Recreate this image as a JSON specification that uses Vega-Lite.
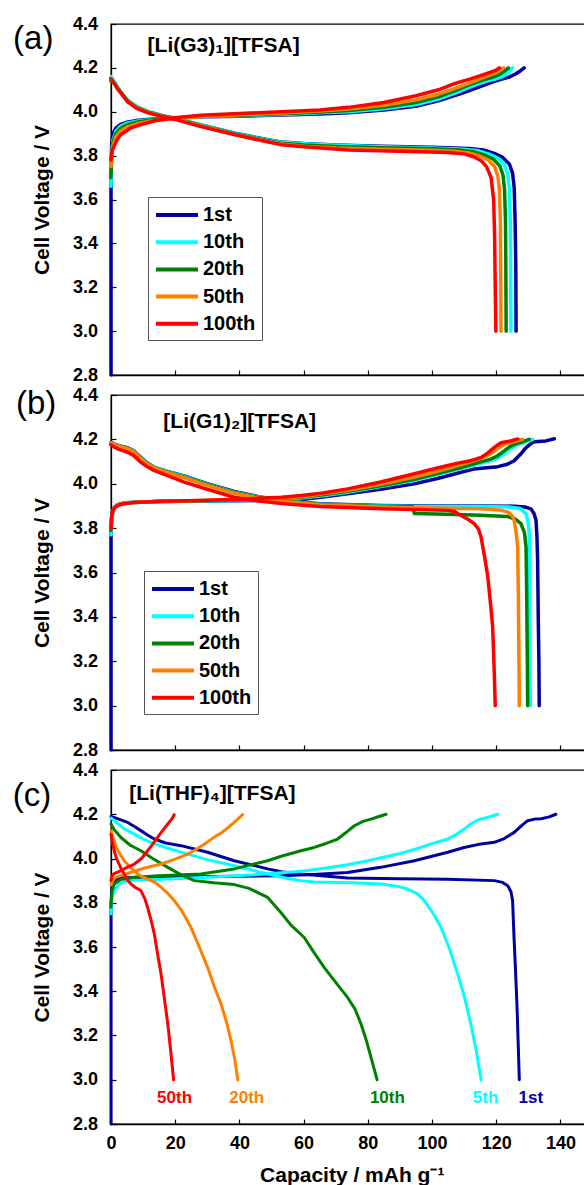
{
"$schema": "https://vega.github.io/schema/vega-lite/v6.json",
"background": "white",
"padding": {"left": 12, "top": 14, "right": 0, "bottom": 0},
"bounds": "flush",
"spacing": 20,
"config": {
  "font": "Liberation Sans",
  "view": {"stroke": "black", "strokeWidth": 1.3},
  "axis": {"domainColor": "black", "domainWidth": 1.3, "tickColor": "black", "tickWidth": 1.2, "tickSize": -5, "grid": false, "labelFontSize": 18, "labelFontWeight": "bold", "labelColor": "black", "titleFontSize": 21, "titleFontWeight": "bold", "titleColor": "black", "labelFlush": false, "labelOverlap": false},
  "legend": {"title": null, "orient": "none", "strokeColor": "#555", "fillColor": "white", "padding": 6, "symbolType": "M-1,0H3.2", "symbolSize": 400, "symbolStrokeWidth": 4, "labelFontSize": 20, "labelFontWeight": "bold", "labelColor": "black", "labelOffset": 25, "rowPadding": 5.2}
},
"resolve": {"scale": {"color": "independent"}, "legend": {"color": "independent"}},
"datasets": {
"a": [
{"c":"1st","s":"ch","x":0,"y":2.8},{"c":"1st","s":"ch","x":0,"y":3.72},{"c":"1st","s":"ch","x":0.2,"y":3.85},{"c":"1st","s":"ch","x":0.6,"y":3.9},{"c":"1st","s":"ch","x":1.5,"y":3.925},{"c":"1st","s":"ch","x":3,"y":3.942},{"c":"1st","s":"ch","x":5,"y":3.952},{"c":"1st","s":"ch","x":8,"y":3.96},{"c":"1st","s":"ch","x":12,"y":3.966},{"c":"1st","s":"ch","x":20,"y":3.972},{"c":"1st","s":"ch","x":30,"y":3.977},{"c":"1st","s":"ch","x":40,"y":3.98},{"c":"1st","s":"ch","x":53,"y":3.985},{"c":"1st","s":"ch","x":65,"y":3.99},{"c":"1st","s":"ch","x":74,"y":3.995},{"c":"1st","s":"ch","x":85,"y":4.008},{"c":"1st","s":"ch","x":95,"y":4.025},{"c":"1st","s":"ch","x":102,"y":4.05},{"c":"1st","s":"ch","x":109,"y":4.083},{"c":"1st","s":"ch","x":115,"y":4.115},{"c":"1st","s":"ch","x":119,"y":4.136},{"c":"1st","s":"ch","x":121.5,"y":4.148},{"c":"1st","s":"ch","x":124,"y":4.158},{"c":"1st","s":"ch","x":126,"y":4.172},{"c":"1st","s":"ch","x":127.5,"y":4.186},{"c":"1st","s":"ch","x":128.7,"y":4.2},
{"c":"1st","s":"di","x":0,"y":4.155},{"c":"1st","s":"di","x":0.5,"y":4.145},{"c":"1st","s":"di","x":1,"y":4.135},{"c":"1st","s":"di","x":2,"y":4.11},{"c":"1st","s":"di","x":3,"y":4.09},{"c":"1st","s":"di","x":5.2,"y":4.05},{"c":"1st","s":"di","x":8,"y":4.022},{"c":"1st","s":"di","x":11.5,"y":4.0},{"c":"1st","s":"di","x":16,"y":3.982},{"c":"1st","s":"di","x":20,"y":3.97},{"c":"1st","s":"di","x":28,"y":3.94},{"c":"1st","s":"di","x":38.6,"y":3.902},{"c":"1st","s":"di","x":49,"y":3.872},{"c":"1st","s":"di","x":53,"y":3.862},{"c":"1st","s":"di","x":60,"y":3.855},{"c":"1st","s":"di","x":70,"y":3.849},{"c":"1st","s":"di","x":84.5,"y":3.843},{"c":"1st","s":"di","x":100,"y":3.838},{"c":"1st","s":"di","x":111.6,"y":3.832},{"c":"1st","s":"di","x":116,"y":3.826},{"c":"1st","s":"di","x":119.4,"y":3.81},{"c":"1st","s":"di","x":122,"y":3.792},{"c":"1st","s":"di","x":124.1,"y":3.762},{"c":"1st","s":"di","x":125.1,"y":3.72},{"c":"1st","s":"di","x":125.6,"y":3.655},{"c":"1st","s":"di","x":125.9,"y":3.5},{"c":"1st","s":"di","x":126.1,"y":3.3},{"c":"1st","s":"di","x":126.2,"y":3.0},
{"c":"10th","s":"ch","x":0,"y":3.66},{"c":"10th","s":"ch","x":0.2,"y":3.8},{"c":"10th","s":"ch","x":0.6,"y":3.87},{"c":"10th","s":"ch","x":1.5,"y":3.91},{"c":"10th","s":"ch","x":3,"y":3.935},{"c":"10th","s":"ch","x":5,"y":3.948},{"c":"10th","s":"ch","x":8,"y":3.957},{"c":"10th","s":"ch","x":12,"y":3.964},{"c":"10th","s":"ch","x":20,"y":3.972},{"c":"10th","s":"ch","x":30,"y":3.978},{"c":"10th","s":"ch","x":40,"y":3.982},{"c":"10th","s":"ch","x":53,"y":3.988},{"c":"10th","s":"ch","x":65,"y":3.995},{"c":"10th","s":"ch","x":74,"y":4.0},{"c":"10th","s":"ch","x":85,"y":4.014},{"c":"10th","s":"ch","x":95,"y":4.033},{"c":"10th","s":"ch","x":102,"y":4.058},{"c":"10th","s":"ch","x":108,"y":4.09},{"c":"10th","s":"ch","x":113,"y":4.12},{"c":"10th","s":"ch","x":117,"y":4.14},{"c":"10th","s":"ch","x":120,"y":4.15},{"c":"10th","s":"ch","x":122,"y":4.16},{"c":"10th","s":"ch","x":123.8,"y":4.178},{"c":"10th","s":"ch","x":125.1,"y":4.2},
{"c":"10th","s":"di","x":0,"y":4.16},{"c":"10th","s":"di","x":0.5,"y":4.15},{"c":"10th","s":"di","x":1,"y":4.14},{"c":"10th","s":"di","x":2,"y":4.115},{"c":"10th","s":"di","x":3,"y":4.093},{"c":"10th","s":"di","x":5.2,"y":4.052},{"c":"10th","s":"di","x":8,"y":4.024},{"c":"10th","s":"di","x":11.5,"y":4.002},{"c":"10th","s":"di","x":16,"y":3.983},{"c":"10th","s":"di","x":20,"y":3.971},{"c":"10th","s":"di","x":28,"y":3.94},{"c":"10th","s":"di","x":38.6,"y":3.901},{"c":"10th","s":"di","x":49,"y":3.871},{"c":"10th","s":"di","x":53,"y":3.861},{"c":"10th","s":"di","x":60,"y":3.854},{"c":"10th","s":"di","x":70,"y":3.847},{"c":"10th","s":"di","x":84.5,"y":3.841},{"c":"10th","s":"di","x":100,"y":3.835},{"c":"10th","s":"di","x":110,"y":3.829},{"c":"10th","s":"di","x":114.5,"y":3.822},{"c":"10th","s":"di","x":118,"y":3.806},{"c":"10th","s":"di","x":120.6,"y":3.788},{"c":"10th","s":"di","x":122.6,"y":3.758},{"c":"10th","s":"di","x":123.6,"y":3.715},{"c":"10th","s":"di","x":124.1,"y":3.65},{"c":"10th","s":"di","x":124.4,"y":3.5},{"c":"10th","s":"di","x":124.5,"y":3.3},{"c":"10th","s":"di","x":124.6,"y":3.0},
{"c":"20th","s":"ch","x":0,"y":3.7},{"c":"20th","s":"ch","x":0.2,"y":3.8},{"c":"20th","s":"ch","x":0.6,"y":3.86},{"c":"20th","s":"ch","x":1.5,"y":3.9},{"c":"20th","s":"ch","x":3,"y":3.925},{"c":"20th","s":"ch","x":5,"y":3.94},{"c":"20th","s":"ch","x":8,"y":3.952},{"c":"20th","s":"ch","x":12,"y":3.961},{"c":"20th","s":"ch","x":20,"y":3.971},{"c":"20th","s":"ch","x":30,"y":3.979},{"c":"20th","s":"ch","x":40,"y":3.984},{"c":"20th","s":"ch","x":53,"y":3.991},{"c":"20th","s":"ch","x":65,"y":3.999},{"c":"20th","s":"ch","x":74,"y":4.006},{"c":"20th","s":"ch","x":85,"y":4.021},{"c":"20th","s":"ch","x":95,"y":4.042},{"c":"20th","s":"ch","x":102,"y":4.068},{"c":"20th","s":"ch","x":107,"y":4.095},{"c":"20th","s":"ch","x":112,"y":4.125},{"c":"20th","s":"ch","x":116,"y":4.145},{"c":"20th","s":"ch","x":119,"y":4.158},{"c":"20th","s":"ch","x":121,"y":4.17},{"c":"20th","s":"ch","x":122.6,"y":4.185},{"c":"20th","s":"ch","x":123.8,"y":4.2},
{"c":"20th","s":"di","x":0,"y":4.14},{"c":"20th","s":"di","x":0.5,"y":4.135},{"c":"20th","s":"di","x":1,"y":4.13},{"c":"20th","s":"di","x":2,"y":4.108},{"c":"20th","s":"di","x":3,"y":4.09},{"c":"20th","s":"di","x":5.2,"y":4.05},{"c":"20th","s":"di","x":8,"y":4.02},{"c":"20th","s":"di","x":11.5,"y":3.999},{"c":"20th","s":"di","x":16,"y":3.981},{"c":"20th","s":"di","x":20,"y":3.969},{"c":"20th","s":"di","x":28,"y":3.938},{"c":"20th","s":"di","x":38.6,"y":3.899},{"c":"20th","s":"di","x":49,"y":3.868},{"c":"20th","s":"di","x":53,"y":3.857},{"c":"20th","s":"di","x":60,"y":3.849},{"c":"20th","s":"di","x":70,"y":3.842},{"c":"20th","s":"di","x":84.5,"y":3.836},{"c":"20th","s":"di","x":100,"y":3.831},{"c":"20th","s":"di","x":108.5,"y":3.826},{"c":"20th","s":"di","x":113,"y":3.818},{"c":"20th","s":"di","x":116.5,"y":3.802},{"c":"20th","s":"di","x":119.1,"y":3.784},{"c":"20th","s":"di","x":121.1,"y":3.754},{"c":"20th","s":"di","x":122.1,"y":3.712},{"c":"20th","s":"di","x":122.6,"y":3.648},{"c":"20th","s":"di","x":122.9,"y":3.5},{"c":"20th","s":"di","x":123,"y":3.3},{"c":"20th","s":"di","x":123.1,"y":3.0},
{"c":"50th","s":"ch","x":0,"y":3.75},{"c":"50th","s":"ch","x":0.2,"y":3.8},{"c":"50th","s":"ch","x":0.6,"y":3.845},{"c":"50th","s":"ch","x":1.5,"y":3.885},{"c":"50th","s":"ch","x":3,"y":3.912},{"c":"50th","s":"ch","x":5,"y":3.93},{"c":"50th","s":"ch","x":8,"y":3.945},{"c":"50th","s":"ch","x":12,"y":3.957},{"c":"50th","s":"ch","x":20,"y":3.969},{"c":"50th","s":"ch","x":30,"y":3.979},{"c":"50th","s":"ch","x":40,"y":3.986},{"c":"50th","s":"ch","x":53,"y":3.994},{"c":"50th","s":"ch","x":65,"y":4.003},{"c":"50th","s":"ch","x":74,"y":4.012},{"c":"50th","s":"ch","x":85,"y":4.03},{"c":"50th","s":"ch","x":95,"y":4.055},{"c":"50th","s":"ch","x":102,"y":4.08},{"c":"50th","s":"ch","x":107,"y":4.105},{"c":"50th","s":"ch","x":112,"y":4.133},{"c":"50th","s":"ch","x":115.5,"y":4.153},{"c":"50th","s":"ch","x":118,"y":4.167},{"c":"50th","s":"ch","x":120,"y":4.178},{"c":"50th","s":"ch","x":121.3,"y":4.19},{"c":"50th","s":"ch","x":122.3,"y":4.2},
{"c":"50th","s":"di","x":0,"y":4.15},{"c":"50th","s":"di","x":0.5,"y":4.14},{"c":"50th","s":"di","x":1,"y":4.13},{"c":"50th","s":"di","x":2,"y":4.107},{"c":"50th","s":"di","x":3,"y":4.088},{"c":"50th","s":"di","x":5.2,"y":4.047},{"c":"50th","s":"di","x":8,"y":4.018},{"c":"50th","s":"di","x":11.5,"y":3.997},{"c":"50th","s":"di","x":16,"y":3.98},{"c":"50th","s":"di","x":20,"y":3.967},{"c":"50th","s":"di","x":28,"y":3.935},{"c":"50th","s":"di","x":38.6,"y":3.897},{"c":"50th","s":"di","x":49,"y":3.865},{"c":"50th","s":"di","x":53,"y":3.853},{"c":"50th","s":"di","x":60,"y":3.843},{"c":"50th","s":"di","x":70,"y":3.835},{"c":"50th","s":"di","x":84.5,"y":3.829},{"c":"50th","s":"di","x":100,"y":3.824},{"c":"50th","s":"di","x":107,"y":3.82},{"c":"50th","s":"di","x":111.5,"y":3.812},{"c":"50th","s":"di","x":115,"y":3.797},{"c":"50th","s":"di","x":117.5,"y":3.78},{"c":"50th","s":"di","x":119.5,"y":3.75},{"c":"50th","s":"di","x":120.5,"y":3.708},{"c":"50th","s":"di","x":121,"y":3.645},{"c":"50th","s":"di","x":121.3,"y":3.5},{"c":"50th","s":"di","x":121.4,"y":3.3},{"c":"50th","s":"di","x":121.5,"y":3.0},
{"c":"100th","s":"ch","x":0,"y":3.78},{"c":"100th","s":"ch","x":0.3,"y":3.82},{"c":"100th","s":"ch","x":1,"y":3.845},{"c":"100th","s":"ch","x":2,"y":3.875},{"c":"100th","s":"ch","x":3,"y":3.895},{"c":"100th","s":"ch","x":6,"y":3.925},{"c":"100th","s":"ch","x":9.4,"y":3.942},{"c":"100th","s":"ch","x":14,"y":3.96},{"c":"100th","s":"ch","x":20,"y":3.973},{"c":"100th","s":"ch","x":28,"y":3.984},{"c":"100th","s":"ch","x":40,"y":3.992},{"c":"100th","s":"ch","x":53,"y":4.0},{"c":"100th","s":"ch","x":65,"y":4.008},{"c":"100th","s":"ch","x":74,"y":4.02},{"c":"100th","s":"ch","x":85,"y":4.042},{"c":"100th","s":"ch","x":95,"y":4.073},{"c":"100th","s":"ch","x":102,"y":4.1},{"c":"100th","s":"ch","x":107.4,"y":4.13},{"c":"100th","s":"ch","x":112,"y":4.15},{"c":"100th","s":"ch","x":115.8,"y":4.168},{"c":"100th","s":"ch","x":118.5,"y":4.182},{"c":"100th","s":"ch","x":120,"y":4.19},{"c":"100th","s":"ch","x":121,"y":4.2},
{"c":"100th","s":"di","x":0,"y":4.15},{"c":"100th","s":"di","x":0.5,"y":4.14},{"c":"100th","s":"di","x":1,"y":4.13},{"c":"100th","s":"di","x":2,"y":4.105},{"c":"100th","s":"di","x":3,"y":4.087},{"c":"100th","s":"di","x":5.2,"y":4.045},{"c":"100th","s":"di","x":8,"y":4.015},{"c":"100th","s":"di","x":11.5,"y":3.995},{"c":"100th","s":"di","x":16,"y":3.978},{"c":"100th","s":"di","x":20,"y":3.965},{"c":"100th","s":"di","x":28,"y":3.932},{"c":"100th","s":"di","x":38.6,"y":3.895},{"c":"100th","s":"di","x":49,"y":3.862},{"c":"100th","s":"di","x":53,"y":3.85},{"c":"100th","s":"di","x":60,"y":3.84},{"c":"100th","s":"di","x":74,"y":3.826},{"c":"100th","s":"di","x":90,"y":3.82},{"c":"100th","s":"di","x":105,"y":3.814},{"c":"100th","s":"di","x":110,"y":3.808},{"c":"100th","s":"di","x":113,"y":3.795},{"c":"100th","s":"di","x":115.3,"y":3.777},{"c":"100th","s":"di","x":117,"y":3.75},{"c":"100th","s":"di","x":118.4,"y":3.7},{"c":"100th","s":"di","x":119.2,"y":3.6},{"c":"100th","s":"di","x":119.5,"y":3.44},{"c":"100th","s":"di","x":119.7,"y":3.2},{"c":"100th","s":"di","x":119.9,"y":3.0}
],
"b": [
{"c":"1st","s":"ch","x":0,"y":2.8},{"c":"1st","s":"ch","x":0,"y":3.78},{"c":"1st","s":"ch","x":0.2,"y":3.85},{"c":"1st","s":"ch","x":0.6,"y":3.88},{"c":"1st","s":"ch","x":1,"y":3.894},{"c":"1st","s":"ch","x":2,"y":3.906},{"c":"1st","s":"ch","x":4,"y":3.913},{"c":"1st","s":"ch","x":7.3,"y":3.917},{"c":"1st","s":"ch","x":15,"y":3.92},{"c":"1st","s":"ch","x":28,"y":3.922},{"c":"1st","s":"ch","x":40,"y":3.923},{"c":"1st","s":"ch","x":53,"y":3.926},{"c":"1st","s":"ch","x":60,"y":3.93},{"c":"1st","s":"ch","x":66,"y":3.94},{"c":"1st","s":"ch","x":73.7,"y":3.955},{"c":"1st","s":"ch","x":84,"y":3.975},{"c":"1st","s":"ch","x":94.5,"y":4.0},{"c":"1st","s":"ch","x":102,"y":4.025},{"c":"1st","s":"ch","x":109,"y":4.052},{"c":"1st","s":"ch","x":113,"y":4.066},{"c":"1st","s":"ch","x":117,"y":4.072},{"c":"1st","s":"ch","x":120.5,"y":4.077},{"c":"1st","s":"ch","x":123.5,"y":4.088},{"c":"1st","s":"ch","x":125.6,"y":4.104},{"c":"1st","s":"ch","x":127.7,"y":4.135},{"c":"1st","s":"ch","x":129,"y":4.158},{"c":"1st","s":"ch","x":130.3,"y":4.175},{"c":"1st","s":"ch","x":131.5,"y":4.188},{"c":"1st","s":"ch","x":133,"y":4.19},{"c":"1st","s":"ch","x":135.5,"y":4.193},{"c":"1st","s":"ch","x":138.1,"y":4.203},
{"c":"1st","s":"di","x":0,"y":4.187},{"c":"1st","s":"di","x":1,"y":4.18},{"c":"1st","s":"di","x":2.5,"y":4.172},{"c":"1st","s":"di","x":5.2,"y":4.162},{"c":"1st","s":"di","x":7,"y":4.15},{"c":"1st","s":"di","x":9.3,"y":4.119},{"c":"1st","s":"di","x":11,"y":4.097},{"c":"1st","s":"di","x":13.5,"y":4.074},{"c":"1st","s":"di","x":17,"y":4.058},{"c":"1st","s":"di","x":22.8,"y":4.035},{"c":"1st","s":"di","x":30,"y":4.0},{"c":"1st","s":"di","x":38.4,"y":3.965},{"c":"1st","s":"di","x":46,"y":3.942},{"c":"1st","s":"di","x":54,"y":3.925},{"c":"1st","s":"di","x":65,"y":3.91},{"c":"1st","s":"di","x":84.1,"y":3.902},{"c":"1st","s":"di","x":100,"y":3.9},{"c":"1st","s":"di","x":115,"y":3.9},{"c":"1st","s":"di","x":125.6,"y":3.899},{"c":"1st","s":"di","x":129,"y":3.895},{"c":"1st","s":"di","x":130.8,"y":3.887},{"c":"1st","s":"di","x":131.8,"y":3.865},{"c":"1st","s":"di","x":132.4,"y":3.835},{"c":"1st","s":"di","x":132.7,"y":3.76},{"c":"1st","s":"di","x":132.9,"y":3.655},{"c":"1st","s":"di","x":133.1,"y":3.4},{"c":"1st","s":"di","x":133.3,"y":3.2},{"c":"1st","s":"di","x":133.4,"y":3.0},
{"c":"10th","s":"ch","x":0,"y":3.77},{"c":"10th","s":"ch","x":0.2,"y":3.84},{"c":"10th","s":"ch","x":0.6,"y":3.875},{"c":"10th","s":"ch","x":1,"y":3.89},{"c":"10th","s":"ch","x":2,"y":3.903},{"c":"10th","s":"ch","x":4,"y":3.911},{"c":"10th","s":"ch","x":7.3,"y":3.916},{"c":"10th","s":"ch","x":15,"y":3.919},{"c":"10th","s":"ch","x":28,"y":3.922},{"c":"10th","s":"ch","x":40,"y":3.925},{"c":"10th","s":"ch","x":53,"y":3.931},{"c":"10th","s":"ch","x":60,"y":3.937},{"c":"10th","s":"ch","x":66,"y":3.946},{"c":"10th","s":"ch","x":73.7,"y":3.962},{"c":"10th","s":"ch","x":84,"y":3.987},{"c":"10th","s":"ch","x":94.5,"y":4.016},{"c":"10th","s":"ch","x":102,"y":4.043},{"c":"10th","s":"ch","x":109,"y":4.068},{"c":"10th","s":"ch","x":113,"y":4.083},{"c":"10th","s":"ch","x":116,"y":4.095},{"c":"10th","s":"ch","x":118.5,"y":4.104},{"c":"10th","s":"ch","x":120.5,"y":4.115},{"c":"10th","s":"ch","x":122.5,"y":4.135},{"c":"10th","s":"ch","x":124.5,"y":4.158},{"c":"10th","s":"ch","x":126.5,"y":4.175},{"c":"10th","s":"ch","x":128.5,"y":4.185},{"c":"10th","s":"ch","x":130,"y":4.193},{"c":"10th","s":"ch","x":131.4,"y":4.2},
{"c":"10th","s":"di","x":0,"y":4.185},{"c":"10th","s":"di","x":1,"y":4.178},{"c":"10th","s":"di","x":2.5,"y":4.17},{"c":"10th","s":"di","x":5.2,"y":4.16},{"c":"10th","s":"di","x":7,"y":4.148},{"c":"10th","s":"di","x":9.3,"y":4.117},{"c":"10th","s":"di","x":11,"y":4.095},{"c":"10th","s":"di","x":13.5,"y":4.073},{"c":"10th","s":"di","x":17,"y":4.057},{"c":"10th","s":"di","x":22.8,"y":4.033},{"c":"10th","s":"di","x":30,"y":3.998},{"c":"10th","s":"di","x":38.4,"y":3.962},{"c":"10th","s":"di","x":46,"y":3.94},{"c":"10th","s":"di","x":54,"y":3.923},{"c":"10th","s":"di","x":65,"y":3.908},{"c":"10th","s":"di","x":84.1,"y":3.9},{"c":"10th","s":"di","x":100,"y":3.898},{"c":"10th","s":"di","x":115,"y":3.897},{"c":"10th","s":"di","x":124,"y":3.895},{"c":"10th","s":"di","x":127.5,"y":3.888},{"c":"10th","s":"di","x":129.3,"y":3.865},{"c":"10th","s":"di","x":130,"y":3.82},{"c":"10th","s":"di","x":130.3,"y":3.775},{"c":"10th","s":"di","x":130.4,"y":3.6},{"c":"10th","s":"di","x":130.5,"y":3.3},{"c":"10th","s":"di","x":130.6,"y":3.0},
{"c":"20th","s":"ch","x":0,"y":3.79},{"c":"20th","s":"ch","x":0.2,"y":3.845},{"c":"20th","s":"ch","x":0.6,"y":3.875},{"c":"20th","s":"ch","x":1,"y":3.89},{"c":"20th","s":"ch","x":2,"y":3.903},{"c":"20th","s":"ch","x":4,"y":3.911},{"c":"20th","s":"ch","x":7.3,"y":3.916},{"c":"20th","s":"ch","x":15,"y":3.92},{"c":"20th","s":"ch","x":28,"y":3.923},{"c":"20th","s":"ch","x":40,"y":3.927},{"c":"20th","s":"ch","x":53,"y":3.933},{"c":"20th","s":"ch","x":60,"y":3.94},{"c":"20th","s":"ch","x":66,"y":3.95},{"c":"20th","s":"ch","x":73.7,"y":3.966},{"c":"20th","s":"ch","x":84,"y":3.991},{"c":"20th","s":"ch","x":94.5,"y":4.02},{"c":"20th","s":"ch","x":102,"y":4.047},{"c":"20th","s":"ch","x":109,"y":4.073},{"c":"20th","s":"ch","x":112.5,"y":4.088},{"c":"20th","s":"ch","x":115.5,"y":4.1},{"c":"20th","s":"ch","x":118,"y":4.11},{"c":"20th","s":"ch","x":120,"y":4.122},{"c":"20th","s":"ch","x":122,"y":4.142},{"c":"20th","s":"ch","x":124,"y":4.165},{"c":"20th","s":"ch","x":126,"y":4.18},{"c":"20th","s":"ch","x":128,"y":4.188},{"c":"20th","s":"ch","x":129.3,"y":4.195},{"c":"20th","s":"ch","x":130.3,"y":4.2},
{"c":"20th","s":"di","x":0,"y":4.18},{"c":"20th","s":"di","x":1,"y":4.175},{"c":"20th","s":"di","x":2.5,"y":4.168},{"c":"20th","s":"di","x":5.2,"y":4.158},{"c":"20th","s":"di","x":7,"y":4.146},{"c":"20th","s":"di","x":9.3,"y":4.115},{"c":"20th","s":"di","x":11,"y":4.093},{"c":"20th","s":"di","x":13.5,"y":4.071},{"c":"20th","s":"di","x":17,"y":4.055},{"c":"20th","s":"di","x":22.8,"y":4.03},{"c":"20th","s":"di","x":30,"y":3.996},{"c":"20th","s":"di","x":38.4,"y":3.96},{"c":"20th","s":"di","x":46,"y":3.938},{"c":"20th","s":"di","x":54,"y":3.922},{"c":"20th","s":"di","x":65,"y":3.906},{"c":"20th","s":"di","x":84.1,"y":3.898},{"c":"20th","s":"di","x":94,"y":3.896},{"c":"20th","s":"di","x":94.5,"y":3.866},{"c":"20th","s":"di","x":105,"y":3.862},{"c":"20th","s":"di","x":115,"y":3.858},{"c":"20th","s":"di","x":123.6,"y":3.852},{"c":"20th","s":"di","x":126,"y":3.84},{"c":"20th","s":"di","x":127.7,"y":3.82},{"c":"20th","s":"di","x":128.8,"y":3.78},{"c":"20th","s":"di","x":129.3,"y":3.714},{"c":"20th","s":"di","x":129.5,"y":3.5},{"c":"20th","s":"di","x":129.7,"y":3.2},{"c":"20th","s":"di","x":129.8,"y":3.0},
{"c":"50th","s":"ch","x":0,"y":3.8},{"c":"50th","s":"ch","x":0.2,"y":3.85},{"c":"50th","s":"ch","x":0.6,"y":3.878},{"c":"50th","s":"ch","x":1,"y":3.892},{"c":"50th","s":"ch","x":2,"y":3.904},{"c":"50th","s":"ch","x":4,"y":3.912},{"c":"50th","s":"ch","x":7.3,"y":3.917},{"c":"50th","s":"ch","x":15,"y":3.921},{"c":"50th","s":"ch","x":28,"y":3.924},{"c":"50th","s":"ch","x":40,"y":3.929},{"c":"50th","s":"ch","x":53,"y":3.936},{"c":"50th","s":"ch","x":60,"y":3.943},{"c":"50th","s":"ch","x":66,"y":3.955},{"c":"50th","s":"ch","x":73.7,"y":3.971},{"c":"50th","s":"ch","x":84,"y":3.998},{"c":"50th","s":"ch","x":94.5,"y":4.03},{"c":"50th","s":"ch","x":102,"y":4.057},{"c":"50th","s":"ch","x":108,"y":4.082},{"c":"50th","s":"ch","x":111.5,"y":4.097},{"c":"50th","s":"ch","x":114.5,"y":4.11},{"c":"50th","s":"ch","x":117,"y":4.124},{"c":"50th","s":"ch","x":119,"y":4.143},{"c":"50th","s":"ch","x":121,"y":4.165},{"c":"50th","s":"ch","x":123,"y":4.18},{"c":"50th","s":"ch","x":125,"y":4.188},{"c":"50th","s":"ch","x":126.8,"y":4.195},{"c":"50th","s":"ch","x":128.2,"y":4.2},
{"c":"50th","s":"di","x":0,"y":4.183},{"c":"50th","s":"di","x":1,"y":4.177},{"c":"50th","s":"di","x":2.5,"y":4.168},{"c":"50th","s":"di","x":5.2,"y":4.158},{"c":"50th","s":"di","x":7,"y":4.145},{"c":"50th","s":"di","x":9.3,"y":4.114},{"c":"50th","s":"di","x":11,"y":4.092},{"c":"50th","s":"di","x":13.5,"y":4.07},{"c":"50th","s":"di","x":17,"y":4.053},{"c":"50th","s":"di","x":22.8,"y":4.027},{"c":"50th","s":"di","x":30,"y":3.993},{"c":"50th","s":"di","x":38.4,"y":3.957},{"c":"50th","s":"di","x":46,"y":3.935},{"c":"50th","s":"di","x":54,"y":3.92},{"c":"50th","s":"di","x":65,"y":3.905},{"c":"50th","s":"di","x":84.1,"y":3.895},{"c":"50th","s":"di","x":100,"y":3.891},{"c":"50th","s":"di","x":115.3,"y":3.887},{"c":"50th","s":"di","x":121,"y":3.882},{"c":"50th","s":"di","x":123.6,"y":3.872},{"c":"50th","s":"di","x":125,"y":3.855},{"c":"50th","s":"di","x":125.6,"y":3.835},{"c":"50th","s":"di","x":126.2,"y":3.78},{"c":"50th","s":"di","x":126.7,"y":3.714},{"c":"50th","s":"di","x":126.9,"y":3.5},{"c":"50th","s":"di","x":127.1,"y":3.2},{"c":"50th","s":"di","x":127.2,"y":3.0},
{"c":"100th","s":"ch","x":0,"y":3.8},{"c":"100th","s":"ch","x":0.2,"y":3.85},{"c":"100th","s":"ch","x":0.6,"y":3.88},{"c":"100th","s":"ch","x":1.5,"y":3.897},{"c":"100th","s":"ch","x":3.1,"y":3.908},{"c":"100th","s":"ch","x":7.3,"y":3.916},{"c":"100th","s":"ch","x":15,"y":3.921},{"c":"100th","s":"ch","x":28,"y":3.925},{"c":"100th","s":"ch","x":40,"y":3.93},{"c":"100th","s":"ch","x":53,"y":3.939},{"c":"100th","s":"ch","x":59.2,"y":3.947},{"c":"100th","s":"ch","x":66,"y":3.958},{"c":"100th","s":"ch","x":73.7,"y":3.977},{"c":"100th","s":"ch","x":84,"y":4.008},{"c":"100th","s":"ch","x":94.5,"y":4.045},{"c":"100th","s":"ch","x":102,"y":4.072},{"c":"100th","s":"ch","x":108,"y":4.093},{"c":"100th","s":"ch","x":111.1,"y":4.101},{"c":"100th","s":"ch","x":113,"y":4.108},{"c":"100th","s":"ch","x":115.3,"y":4.119},{"c":"100th","s":"ch","x":117.5,"y":4.14},{"c":"100th","s":"ch","x":119.5,"y":4.165},{"c":"100th","s":"ch","x":121.5,"y":4.185},{"c":"100th","s":"ch","x":123.5,"y":4.19},{"c":"100th","s":"ch","x":125,"y":4.195},{"c":"100th","s":"ch","x":126.7,"y":4.202},
{"c":"100th","s":"di","x":0,"y":4.175},{"c":"100th","s":"di","x":1,"y":4.165},{"c":"100th","s":"di","x":2.5,"y":4.155},{"c":"100th","s":"di","x":5.2,"y":4.142},{"c":"100th","s":"di","x":7,"y":4.128},{"c":"100th","s":"di","x":9.3,"y":4.097},{"c":"100th","s":"di","x":11,"y":4.08},{"c":"100th","s":"di","x":13.5,"y":4.059},{"c":"100th","s":"di","x":17,"y":4.04},{"c":"100th","s":"di","x":22.8,"y":4.007},{"c":"100th","s":"di","x":30,"y":3.975},{"c":"100th","s":"di","x":38.4,"y":3.939},{"c":"100th","s":"di","x":46,"y":3.922},{"c":"100th","s":"di","x":54,"y":3.91},{"c":"100th","s":"di","x":65,"y":3.898},{"c":"100th","s":"di","x":84.1,"y":3.887},{"c":"100th","s":"di","x":104.9,"y":3.88},{"c":"100th","s":"di","x":107,"y":3.875},{"c":"100th","s":"di","x":109,"y":3.857},{"c":"100th","s":"di","x":111.2,"y":3.84},{"c":"100th","s":"di","x":113.2,"y":3.82},{"c":"100th","s":"di","x":114.5,"y":3.795},{"c":"100th","s":"di","x":115.3,"y":3.759},{"c":"100th","s":"di","x":116.4,"y":3.67},{"c":"100th","s":"di","x":117.4,"y":3.579},{"c":"100th","s":"di","x":118.3,"y":3.45},{"c":"100th","s":"di","x":118.9,"y":3.355},{"c":"100th","s":"di","x":119.4,"y":3.15},{"c":"100th","s":"di","x":119.7,"y":3.0}
],
"c": [
{"c":"1st","s":"ch","x":0,"y":2.8},{"c":"1st","s":"ch","x":0,"y":3.8},{"c":"1st","s":"ch","x":0.3,"y":3.87},{"c":"1st","s":"ch","x":1,"y":3.9},{"c":"1st","s":"ch","x":3,"y":3.912},{"c":"1st","s":"ch","x":8,"y":3.915},{"c":"1st","s":"ch","x":20,"y":3.918},{"c":"1st","s":"ch","x":40,"y":3.92},{"c":"1st","s":"ch","x":53,"y":3.922},{"c":"1st","s":"ch","x":63,"y":3.928},{"c":"1st","s":"ch","x":73.7,"y":3.937},{"c":"1st","s":"ch","x":84,"y":3.96},{"c":"1st","s":"ch","x":94.5,"y":3.99},{"c":"1st","s":"ch","x":104.9,"y":4.028},{"c":"1st","s":"ch","x":110,"y":4.05},{"c":"1st","s":"ch","x":115.3,"y":4.066},{"c":"1st","s":"ch","x":119.4,"y":4.073},{"c":"1st","s":"ch","x":122.5,"y":4.09},{"c":"1st","s":"ch","x":125.6,"y":4.118},{"c":"1st","s":"ch","x":128,"y":4.15},{"c":"1st","s":"ch","x":129.8,"y":4.171},{"c":"1st","s":"ch","x":132,"y":4.178},{"c":"1st","s":"ch","x":134,"y":4.18},{"c":"1st","s":"ch","x":136.5,"y":4.188},{"c":"1st","s":"ch","x":138.6,"y":4.2},
{"c":"1st","s":"di","x":0,"y":4.19},{"c":"1st","s":"di","x":2,"y":4.18},{"c":"1st","s":"di","x":5.2,"y":4.163},{"c":"1st","s":"di","x":7.3,"y":4.145},{"c":"1st","s":"di","x":9.3,"y":4.126},{"c":"1st","s":"di","x":11.5,"y":4.105},{"c":"1st","s":"di","x":13.5,"y":4.088},{"c":"1st","s":"di","x":17,"y":4.07},{"c":"1st","s":"di","x":21.8,"y":4.058},{"c":"1st","s":"di","x":30.1,"y":4.028},{"c":"1st","s":"di","x":38.4,"y":3.99},{"c":"1st","s":"di","x":48.8,"y":3.953},{"c":"1st","s":"di","x":53,"y":3.94},{"c":"1st","s":"di","x":59.2,"y":3.93},{"c":"1st","s":"di","x":73.7,"y":3.912},{"c":"1st","s":"di","x":90,"y":3.908},{"c":"1st","s":"di","x":104.9,"y":3.906},{"c":"1st","s":"di","x":119.4,"y":3.9},{"c":"1st","s":"di","x":122,"y":3.892},{"c":"1st","s":"di","x":123.6,"y":3.877},{"c":"1st","s":"di","x":124.6,"y":3.85},{"c":"1st","s":"di","x":125.1,"y":3.81},{"c":"1st","s":"di","x":125.6,"y":3.628},{"c":"1st","s":"di","x":126,"y":3.5},{"c":"1st","s":"di","x":126.5,"y":3.327},{"c":"1st","s":"di","x":127.2,"y":3.0},
{"c":"5th","s":"ch","x":0,"y":3.75},{"c":"5th","s":"ch","x":0.3,"y":3.82},{"c":"5th","s":"ch","x":1,"y":3.855},{"c":"5th","s":"ch","x":2.5,"y":3.885},{"c":"5th","s":"ch","x":5.2,"y":3.9},{"c":"5th","s":"ch","x":17.7,"y":3.907},{"c":"5th","s":"ch","x":30,"y":3.915},{"c":"5th","s":"ch","x":45,"y":3.927},{"c":"5th","s":"ch","x":59.2,"y":3.942},{"c":"5th","s":"ch","x":66,"y":3.955},{"c":"5th","s":"ch","x":73.7,"y":3.972},{"c":"5th","s":"ch","x":80,"y":3.99},{"c":"5th","s":"ch","x":89.3,"y":4.02},{"c":"5th","s":"ch","x":95,"y":4.043},{"c":"5th","s":"ch","x":99.7,"y":4.066},{"c":"5th","s":"ch","x":104.9,"y":4.088},{"c":"5th","s":"ch","x":107.5,"y":4.108},{"c":"5th","s":"ch","x":110.1,"y":4.133},{"c":"5th","s":"ch","x":112,"y":4.155},{"c":"5th","s":"ch","x":114.2,"y":4.174},{"c":"5th","s":"ch","x":117.3,"y":4.186},{"c":"5th","s":"ch","x":120.5,"y":4.2},
{"c":"5th","s":"di","x":0,"y":4.183},{"c":"5th","s":"di","x":2,"y":4.16},{"c":"5th","s":"di","x":4,"y":4.135},{"c":"5th","s":"di","x":7.3,"y":4.11},{"c":"5th","s":"di","x":10,"y":4.088},{"c":"5th","s":"di","x":13.5,"y":4.066},{"c":"5th","s":"di","x":18,"y":4.045},{"c":"5th","s":"di","x":23.9,"y":4.02},{"c":"5th","s":"di","x":30,"y":3.995},{"c":"5th","s":"di","x":38.4,"y":3.967},{"c":"5th","s":"di","x":48.8,"y":3.93},{"c":"5th","s":"di","x":55,"y":3.91},{"c":"5th","s":"di","x":59.2,"y":3.9},{"c":"5th","s":"di","x":63.3,"y":3.894},{"c":"5th","s":"di","x":75,"y":3.89},{"c":"5th","s":"di","x":84.1,"y":3.885},{"c":"5th","s":"di","x":89,"y":3.875},{"c":"5th","s":"di","x":92.4,"y":3.862},{"c":"5th","s":"di","x":95.5,"y":3.84},{"c":"5th","s":"di","x":97.6,"y":3.81},{"c":"5th","s":"di","x":100,"y":3.76},{"c":"5th","s":"di","x":102.8,"y":3.689},{"c":"5th","s":"di","x":105.5,"y":3.59},{"c":"5th","s":"di","x":108,"y":3.478},{"c":"5th","s":"di","x":110,"y":3.38},{"c":"5th","s":"di","x":112.1,"y":3.252},{"c":"5th","s":"di","x":113.8,"y":3.13},{"c":"5th","s":"di","x":115.3,"y":3.0},
{"c":"10th","s":"ch","x":0,"y":3.78},{"c":"10th","s":"ch","x":0.3,"y":3.85},{"c":"10th","s":"ch","x":1,"y":3.885},{"c":"10th","s":"ch","x":3,"y":3.905},{"c":"10th","s":"ch","x":7.3,"y":3.915},{"c":"10th","s":"ch","x":15,"y":3.922},{"c":"10th","s":"ch","x":28,"y":3.93},{"c":"10th","s":"ch","x":38.4,"y":3.953},{"c":"10th","s":"ch","x":48.8,"y":3.99},{"c":"10th","s":"ch","x":53,"y":4.01},{"c":"10th","s":"ch","x":59.2,"y":4.035},{"c":"10th","s":"ch","x":63.3,"y":4.05},{"c":"10th","s":"ch","x":67,"y":4.068},{"c":"10th","s":"ch","x":70.6,"y":4.088},{"c":"10th","s":"ch","x":73,"y":4.115},{"c":"10th","s":"ch","x":75.8,"y":4.148},{"c":"10th","s":"ch","x":78.5,"y":4.168},{"c":"10th","s":"ch","x":81,"y":4.178},{"c":"10th","s":"ch","x":83.5,"y":4.19},{"c":"10th","s":"ch","x":85.7,"y":4.2},
{"c":"10th","s":"di","x":0,"y":4.156},{"c":"10th","s":"di","x":1,"y":4.13},{"c":"10th","s":"di","x":3.1,"y":4.095},{"c":"10th","s":"di","x":6,"y":4.06},{"c":"10th","s":"di","x":9.3,"y":4.035},{"c":"10th","s":"di","x":13,"y":4.0},{"c":"10th","s":"di","x":17.7,"y":3.96},{"c":"10th","s":"di","x":22,"y":3.925},{"c":"10th","s":"di","x":26,"y":3.9},{"c":"10th","s":"di","x":32,"y":3.89},{"c":"10th","s":"di","x":38.4,"y":3.882},{"c":"10th","s":"di","x":43,"y":3.865},{"c":"10th","s":"di","x":48.8,"y":3.824},{"c":"10th","s":"di","x":53,"y":3.755},{"c":"10th","s":"di","x":56,"y":3.7},{"c":"10th","s":"di","x":60.2,"y":3.643},{"c":"10th","s":"di","x":63,"y":3.58},{"c":"10th","s":"di","x":66.4,"y":3.508},{"c":"10th","s":"di","x":70,"y":3.44},{"c":"10th","s":"di","x":73.7,"y":3.372},{"c":"10th","s":"di","x":76,"y":3.32},{"c":"10th","s":"di","x":77.9,"y":3.252},{"c":"10th","s":"di","x":79.5,"y":3.18},{"c":"10th","s":"di","x":81,"y":3.101},{"c":"10th","s":"di","x":82.9,"y":3.0},
{"c":"20th","s":"ch","x":0,"y":3.88},{"c":"20th","s":"ch","x":0.5,"y":3.9},{"c":"20th","s":"ch","x":1.5,"y":3.915},{"c":"20th","s":"ch","x":5,"y":3.932},{"c":"20th","s":"ch","x":10,"y":3.955},{"c":"20th","s":"ch","x":15.6,"y":3.975},{"c":"20th","s":"ch","x":20,"y":3.997},{"c":"20th","s":"ch","x":23.9,"y":4.02},{"c":"20th","s":"ch","x":27,"y":4.045},{"c":"20th","s":"ch","x":30.1,"y":4.075},{"c":"20th","s":"ch","x":32.5,"y":4.1},{"c":"20th","s":"ch","x":34.3,"y":4.115},{"c":"20th","s":"ch","x":36.5,"y":4.14},{"c":"20th","s":"ch","x":38.4,"y":4.163},{"c":"20th","s":"ch","x":40,"y":4.185},{"c":"20th","s":"ch","x":41,"y":4.198},
{"c":"20th","s":"di","x":0,"y":4.126},{"c":"20th","s":"di","x":0.8,"y":4.09},{"c":"20th","s":"di","x":1.6,"y":4.05},{"c":"20th","s":"di","x":2.8,"y":4.02},{"c":"20th","s":"di","x":4.1,"y":3.99},{"c":"20th","s":"di","x":6,"y":3.96},{"c":"20th","s":"di","x":8.3,"y":3.93},{"c":"20th","s":"di","x":10.5,"y":3.912},{"c":"20th","s":"di","x":12.5,"y":3.9},{"c":"20th","s":"di","x":14,"y":3.89},{"c":"20th","s":"di","x":15.6,"y":3.87},{"c":"20th","s":"di","x":17.5,"y":3.845},{"c":"20th","s":"di","x":19.7,"y":3.81},{"c":"20th","s":"di","x":22,"y":3.765},{"c":"20th","s":"di","x":24.9,"y":3.689},{"c":"20th","s":"di","x":27.5,"y":3.6},{"c":"20th","s":"di","x":30.1,"y":3.508},{"c":"20th","s":"di","x":32.2,"y":3.42},{"c":"20th","s":"di","x":34.3,"y":3.342},{"c":"20th","s":"di","x":36,"y":3.26},{"c":"20th","s":"di","x":37.4,"y":3.176},{"c":"20th","s":"di","x":38.6,"y":3.09},{"c":"20th","s":"di","x":39.5,"y":3.0},
{"c":"50th","s":"ch","x":0,"y":3.9},{"c":"50th","s":"ch","x":0.3,"y":3.92},{"c":"50th","s":"ch","x":1,"y":3.932},{"c":"50th","s":"ch","x":3.1,"y":3.945},{"c":"50th","s":"ch","x":5,"y":3.96},{"c":"50th","s":"ch","x":7.3,"y":3.975},{"c":"50th","s":"ch","x":9.5,"y":4.0},{"c":"50th","s":"ch","x":11.4,"y":4.035},{"c":"50th","s":"ch","x":13,"y":4.065},{"c":"50th","s":"ch","x":14.5,"y":4.095},{"c":"50th","s":"ch","x":16,"y":4.125},{"c":"50th","s":"ch","x":17.7,"y":4.156},{"c":"50th","s":"ch","x":19,"y":4.18},{"c":"50th","s":"ch","x":19.7,"y":4.198},
{"c":"50th","s":"di","x":0,"y":4.11},{"c":"50th","s":"di","x":0.5,"y":4.07},{"c":"50th","s":"di","x":1,"y":4.035},{"c":"50th","s":"di","x":1.6,"y":4.005},{"c":"50th","s":"di","x":2.8,"y":3.965},{"c":"50th","s":"di","x":4.1,"y":3.93},{"c":"50th","s":"di","x":5,"y":3.905},{"c":"50th","s":"di","x":6.2,"y":3.885},{"c":"50th","s":"di","x":7.5,"y":3.87},{"c":"50th","s":"di","x":9.3,"y":3.855},{"c":"50th","s":"di","x":10.5,"y":3.82},{"c":"50th","s":"di","x":11.4,"y":3.779},{"c":"50th","s":"di","x":12.5,"y":3.72},{"c":"50th","s":"di","x":13.5,"y":3.659},{"c":"50th","s":"di","x":14.5,"y":3.57},{"c":"50th","s":"di","x":15.6,"y":3.478},{"c":"50th","s":"di","x":16.7,"y":3.36},{"c":"50th","s":"di","x":17.7,"y":3.252},{"c":"50th","s":"di","x":18.6,"y":3.13},{"c":"50th","s":"di","x":19.5,"y":3.0}
]
},
"vconcat": [
{
  "width": 481.5, "height": 351,
  "layer": [
    {
      "data": {"name": "a"},
      "mark": {"type": "line", "strokeWidth": 3.5, "strokeCap": "round", "strokeJoin": "round"},
      "encoding": {
        "x": {"field": "x", "type": "quantitative", "scale": {"domain": [0, 150], "nice": false, "zero": false}, "axis": {"values": [0,10,20,30,40,50,60,70,80,90,100,110,120,130,140], "labels": false, "title": null}},
        "y": {"field": "y", "type": "quantitative", "scale": {"domain": [2.8, 4.4], "nice": false, "zero": false}, "axis": {"title": "Cell Voltage / V", "values": [2.8,2.9,3.0,3.1,3.2,3.3,3.4,3.5,3.6,3.7,3.8,3.9,4.0,4.1,4.2,4.3,4.4], "labelExpr": "round(datum.value*10)%2==0 ? format(datum.value,'.1f') : ''", "labelPadding": 18.5, "titlePadding": 20}},
        "color": {"field": "c", "type": "nominal", "scale": {"domain": ["1st","10th","20th","50th","100th"], "range": ["#0000A0","#00FFFF","#008000","#FF8000","#FF0000"]}, "legend": {"legendX": 37, "legendY": 173}},
        "detail": {"field": "s"},
        "order": {"value": null}
      }
    },
    {
      "data": {"values": [{"t": "[Li(G3)₁][TFSA]", "x": 11.4, "y": 4.301}]},
      "mark": {"type": "text", "align": "left", "baseline": "middle", "fontSize": 21, "fontWeight": "bold", "color": "black"},
      "encoding": {"x": {"field": "x", "type": "quantitative", "scale": {"domain": [0, 150], "nice": false, "zero": false}}, "y": {"field": "y", "type": "quantitative", "scale": {"domain": [2.8, 4.4], "nice": false, "zero": false}}, "text": {"field": "t"}}
    },
    {
      "data": {"values": [{"t": "(a)", "x": -30.5, "y": 4.333}]},
      "mark": {"type": "text", "align": "left", "baseline": "middle", "fontSize": 33, "color": "black"},
      "encoding": {"x": {"field": "x", "type": "quantitative"}, "y": {"field": "y", "type": "quantitative"}, "text": {"field": "t"}}
    }
  ]
},
{
  "width": 481.5, "height": 355,
  "layer": [
    {
      "data": {"name": "b"},
      "mark": {"type": "line", "strokeWidth": 3.5, "strokeCap": "round", "strokeJoin": "round"},
      "encoding": {
        "x": {"field": "x", "type": "quantitative", "scale": {"domain": [0, 150], "nice": false, "zero": false}, "axis": {"values": [0,10,20,30,40,50,60,70,80,90,100,110,120,130,140], "labels": false, "title": null}},
        "y": {"field": "y", "type": "quantitative", "scale": {"domain": [2.8, 4.4], "nice": false, "zero": false}, "axis": {"title": "Cell Voltage / V", "values": [2.8,2.9,3.0,3.1,3.2,3.3,3.4,3.5,3.6,3.7,3.8,3.9,4.0,4.1,4.2,4.3,4.4], "labelExpr": "round(datum.value*10)%2==0 ? format(datum.value,'.1f') : ''", "labelPadding": 18.5, "titlePadding": 20}},
        "color": {"field": "c", "type": "nominal", "scale": {"domain": ["1st","10th","20th","50th","100th"], "range": ["#0000A0","#00FFFF","#008000","#FF8000","#FF0000"]}, "legend": {"legendX": 33, "legendY": 176}},
        "detail": {"field": "s"},
        "order": {"value": null}
      }
    },
    {
      "data": {"values": [{"t": "[Li(G1)₂][TFSA]", "x": 16.3, "y": 4.277}]},
      "mark": {"type": "text", "align": "left", "baseline": "middle", "fontSize": 21, "fontWeight": "bold", "color": "black"},
      "encoding": {"x": {"field": "x", "type": "quantitative", "scale": {"domain": [0, 150], "nice": false, "zero": false}}, "y": {"field": "y", "type": "quantitative", "scale": {"domain": [2.8, 4.4], "nice": false, "zero": false}}, "text": {"field": "t"}}
    },
    {
      "data": {"values": [{"t": "(b)", "x": -29.6, "y": 4.36}]},
      "mark": {"type": "text", "align": "left", "baseline": "middle", "fontSize": 33, "color": "black"},
      "encoding": {"x": {"field": "x", "type": "quantitative"}, "y": {"field": "y", "type": "quantitative"}, "text": {"field": "t"}}
    }
  ]
},
{
  "width": 481.5, "height": 354,
  "layer": [
    {
      "data": {"name": "c"},
      "mark": {"type": "line", "strokeWidth": 3, "strokeCap": "round", "strokeJoin": "round"},
      "encoding": {
        "x": {"field": "x", "type": "quantitative", "scale": {"domain": [0, 150], "nice": false, "zero": false}, "axis": {"values": [0,10,20,30,40,50,60,70,80,90,100,110,120,130,140], "labelExpr": "datum.value%20==0 ? datum.label : ''", "labelPadding": 15, "title": "Capacity / mAh g⁻¹", "titlePadding": 12}},
        "y": {"field": "y", "type": "quantitative", "scale": {"domain": [2.8, 4.4], "nice": false, "zero": false}, "axis": {"title": "Cell Voltage / V", "values": [2.8,2.9,3.0,3.1,3.2,3.3,3.4,3.5,3.6,3.7,3.8,3.9,4.0,4.1,4.2,4.3,4.4], "labelExpr": "round(datum.value*10)%2==0 ? format(datum.value,'.1f') : ''", "labelPadding": 18.5, "titlePadding": 20}},
        "color": {"field": "c", "type": "nominal", "scale": {"domain": ["1st","5th","10th","20th","50th"], "range": ["#0000A0","#00FFFF","#008000","#FF8000","#FF0000"]}, "legend": null},
        "detail": {"field": "s"},
        "order": {"value": null}
      }
    },
    {
      "data": {"values": [{"c": "50th", "x": 19.8, "y": 2.918}, {"c": "20th", "x": 42.3, "y": 2.918}, {"c": "10th", "x": 86.1, "y": 2.918}, {"c": "5th", "x": 116.7, "y": 2.918}, {"c": "1st", "x": 130.8, "y": 2.918}]},
      "mark": {"type": "text", "align": "center", "baseline": "middle", "fontSize": 17, "fontWeight": "bold"},
      "encoding": {"x": {"field": "x", "type": "quantitative"}, "y": {"field": "y", "type": "quantitative"}, "text": {"field": "c"}, "color": {"field": "c", "type": "nominal"}}
    },
    {
      "data": {"values": [{"t": "[Li(THF)₄][TFSA]", "x": 5.7, "y": 4.292}]},
      "mark": {"type": "text", "align": "left", "baseline": "middle", "fontSize": 21, "fontWeight": "bold", "color": "black"},
      "encoding": {"x": {"field": "x", "type": "quantitative"}, "y": {"field": "y", "type": "quantitative"}, "text": {"field": "t"}}
    },
    {
      "data": {"values": [{"t": "(c)", "x": -30.6, "y": 4.284}]},
      "mark": {"type": "text", "align": "left", "baseline": "middle", "fontSize": 33, "color": "black"},
      "encoding": {"x": {"field": "x", "type": "quantitative"}, "y": {"field": "y", "type": "quantitative"}, "text": {"field": "t"}}
    }
  ]
}
]
}
